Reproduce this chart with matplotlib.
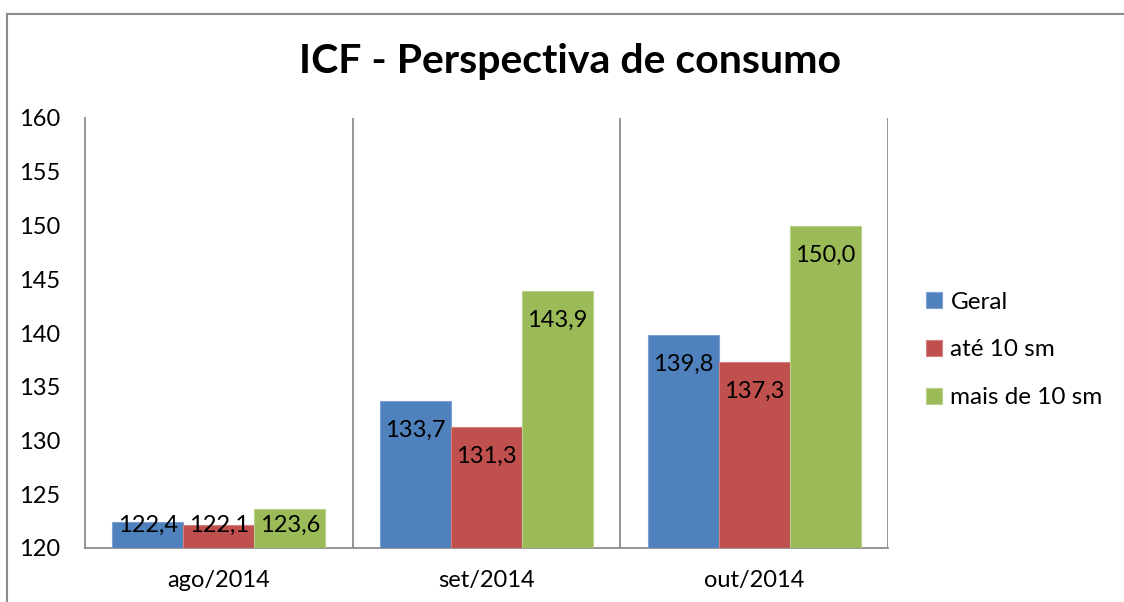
import matplotlib as mpl
mpl.use('Agg')
import matplotlib.pyplot as plt
from matplotlib.lines import Line2D
import numpy as np

plt.rcParams['font.family'] = ['Lato', 'DejaVu Sans']

categories = ['ago/2014', 'set/2014', 'out/2014']
series_names = ['Geral', 'até 10 sm', 'mais de 10 sm']
geral = [122.4, 133.7, 139.8]
ate10 = [122.1, 131.3, 137.3]
mais10 = [123.6, 143.9, 150.0]
colors = ['#4F81BD', '#C0504D', '#9BBB59']
edges = ['#7FA3D0', '#D6807E', '#B9D08A']

fig = plt.figure(figsize=[11.24, 6.02], dpi=100)
ax = fig.add_axes([85/1124, 54/602, 803/1124, 430/602])

x = np.arange(len(categories))
w = 0.265
for i, (vals, name) in enumerate(zip([geral, ate10, mais10], series_names)):
    pos = x + (i - 1) * w
    ax.bar(pos, vals, width=w, bottom=0, color=colors[i], edgecolor=edges[i],
           linewidth=0.8, label=name, zorder=3)
    for p, v in zip(pos, vals):
        ly = max(v - 2.75, 122.1)
        ax.text(p, ly, f'{v:.1f}'.replace('.', ','), ha='center', va='center',
                fontsize=17, color='black', zorder=4)

ax.set_xlim(-0.5, 2.5)
ax.set_ylim(120, 160)
ax.set_yticks(np.arange(120, 161, 5))
ax.set_xticks(x)
ax.set_xticklabels(categories)
ax.tick_params(axis='both', length=0, labelsize=17, colors='black')
ax.tick_params(axis='y', pad=18)
ax.tick_params(axis='x', pad=16)

for xv in [0.5, 1.5, 2.5]:
    ax.axvline(xv, color='#8C8C8C', lw=1.3, zorder=1)
for s in ['top', 'right']:
    ax.spines[s].set_visible(False)
for s in ['left', 'bottom']:
    ax.spines[s].set_color('#8C8C8C')
    ax.spines[s].set_linewidth(1.3)

fig.text(570/1124, 1 - 62/602, 'ICF - Perspectiva de consumo', ha='center',
         va='center', fontsize=29.5, fontweight='bold')

ax.legend(loc='center left', bbox_to_anchor=(914/1124, 1 - 350/602),
          bbox_transform=fig.transFigure, frameon=False, fontsize=17.5,
          handlelength=0.65, handleheight=0.65, handletextpad=0.35,
          labelspacing=1.1, borderpad=0)

fig.add_artist(Line2D([7/1124, 1], [1 - 14/602, 1 - 14/602], color='#8C8C8C', lw=1.5))
fig.add_artist(Line2D([7/1124, 7/1124], [0, 1 - 14/602], color='#8C8C8C', lw=1.5))

plt.savefig('out.png', dpi=100)
plt.close(fig)
